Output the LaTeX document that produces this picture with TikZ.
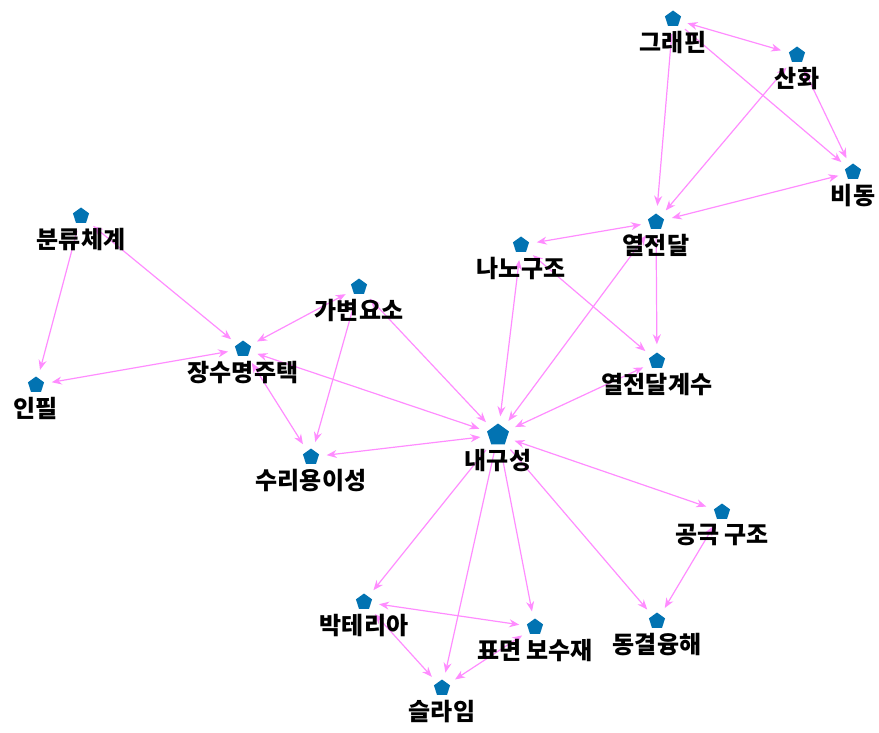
\documentclass[tikz,border=0pt]{standalone}
\usepackage{fontspec}
\newfontfamily\kr{Noto Sans CJK KR}
\usetikzlibrary{positioning,shapes.geometric,arrows.meta}
\definecolor{nodeblue}{RGB}{2,115,178}
\definecolor{edgepink}{RGB}{255,140,255}
\pgfdeclarelayer{background}
\pgfsetlayers{background, main}

\begin{document}
\begin{tikzpicture}[x=1pt,y=-1pt,
	vert/.style={regular polygon,regular polygon sides=5,fill=nodeblue,inner sep=0pt,minimum size=17pt},
	hub/.style={vert,minimum size=23pt},
	lbl/.style={font=\kr\bfseries\fontsize{24}{26}\selectfont,inner sep=0pt,below=5pt of #1},
	lnk/.style={draw=edgepink,line width=1.2pt,shorten >=8pt,shorten <=8pt},
	>={Stealth[length=10pt,width=8pt]}]
	  \useasboundingbox (0,0) rectangle (879,733);
	  % pentagons
	  \node[vert] (gr) at (673,19) {};
	  \node[vert] (sh) at (797,55) {};
	  \node[vert] (bd) at (853,172) {};
	  \node[vert] (ht) at (656,222) {};
	  \node[vert] (nano) at (521,245) {};
	  \node[vert] (cls) at (81,216) {};
	  \node[vert] (var) at (359,287) {};
	  \node[vert] (lh) at (243,349) {};
	  \node[vert] (inf) at (36,385) {};
	  \node[vert] (htc) at (657,361) {};
	  \node[hub] (dur) at (498,435) {};
	  \node[vert] (rep) at (311,457) {};
	  \node[vert] (pore) at (722,512) {};
	  \node[vert] (bac) at (364,602) {};
	  \node[vert] (surf) at (535,627) {};
	  \node[vert] (ft) at (657,621) {};
	  \node[vert] (slm) at (442,688) {};
	  % labels
	  \node[lbl=gr] (grl) {그래핀};
	  \node[lbl=sh] (shl) {산화};
	  \node[lbl=bd] (bdl) {비동};
	  \node[lbl=ht] (htl) {열전달};
	  \node[lbl=nano] (nanol) {나노구조};
	  \node[lbl=cls] (clsl) {분류체계};
	  \node[lbl=var] (varl) {가변요소};
	  \node[lbl=lh] (lhl) {장수명주택};
	  \node[lbl=inf] (infl) {인필};
	  \node[lbl=htc] (htcl) {열전달계수};
	  \node[lbl=dur] (durl) {내구성};
	  \node[lbl=rep] (repl) {수리용이성};
	  \node[lbl=pore] (porel) {공극 구조};
	  \node[lbl=bac] (bacl) {박테리아};
	  \node[lbl=surf] (surfl) {표면 보수재};
	  \node[lbl=ft] (ftl) {동결융해};
	  \node[lbl=slm] (slml) {슬라임};
	  % links
	  \begin{pgfonlayer}{background}
	  \draw[lnk,<->] (gr) -- (sh);
	  \draw[lnk,->] (gr) -- (bd);
	  \draw[lnk,<->] (sh) -- (bd);
	  \draw[lnk,->] (gr) -- (ht);
	  \draw[lnk,<->] (sh) -- (ht);
	  \draw[lnk,<->] (ht) -- (bd);
	  \draw[lnk,<->] (ht) -- (nano);
	  \draw[lnk,->] (ht) -- (htc);
	  \draw[lnk,<->] (ht) -- (dur);
	  \draw[lnk,<->] (nano) -- (dur);
	  \draw[lnk,<->] (nano) -- (htc);
	  \draw[lnk,<->] (htc) -- (dur);
	  \draw[lnk,<->] (var) -- (dur);
	  \draw[lnk,<->] (var) -- (lh);
	  \draw[lnk,->] (var) -- (rep);
	  \draw[lnk,<->] (lh) -- (rep);
	  \draw[lnk,<->] (lh) -- (dur);
	  \draw[lnk,<->] (lh) -- (inf);
	  \draw[lnk,->] (cls) -- (inf);
	  \draw[lnk,<->] (cls) -- (lh);
	  \draw[lnk,<->] (dur) -- (rep);
	  \draw[lnk,<->] (dur) -- (pore);
	  \draw[lnk,->] (dur) -- (ft);
	  \draw[lnk,<->] (pore) -- (ft);
	  \draw[lnk,->] (dur) -- (surf);
	  \draw[lnk,->] (dur) -- (bac);
	  \draw[lnk,->] (dur) -- (slm);
	  \draw[lnk,<->] (bac) -- (surf);
	  \draw[lnk,<->] (bac) -- (slm);
	  \draw[lnk,<->] (surf) -- (slm);
	  \end{pgfonlayer}
	\end{tikzpicture}
\end{document}
